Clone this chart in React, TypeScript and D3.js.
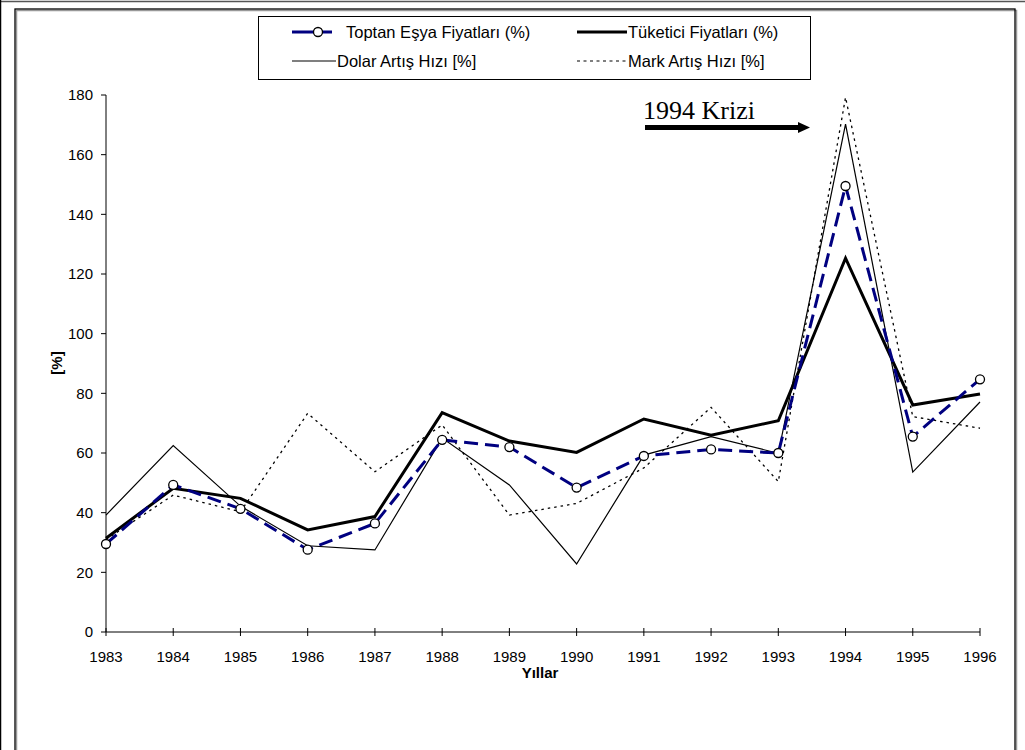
import React from "react";
import * as d3 from "d3";

const years = [1983, 1984, 1985, 1986, 1987, 1988, 1989, 1990, 1991, 1992, 1993, 1994, 1995, 1996];
const toptan = [29.5, 49.3, 41.3, 27.6, 36.4, 64.4, 62.0, 48.4, 59.0, 61.2, 60.0, 149.5, 65.5, 84.7];
const tuketici = [31.4, 48.2, 44.8, 34.2, 38.7, 73.5, 64.0, 60.2, 71.4, 66.0, 70.8, 125.3, 76.1, 79.8];
const dolar = [39.2, 62.5, 42.2, 28.9, 27.5, 65.0, 49.3, 22.8, 59.3, 65.5, 59.9, 170.2, 53.6, 77.1];
const mark = [31.0, 45.9, 40.3, 73.3, 53.7, 69.4, 39.2, 43.1, 55.0, 75.3, 50.4, 179.2, 72.2, 68.3];
const yTicks = [0, 20, 40, 60, 80, 100, 120, 140, 160, 180];

const labels = {
  toptan: "Toptan Eşya Fiyatları (%)",
  tuketici: "Tüketici Fiyatları (%)",
  dolar: "Dolar Artış Hızı [%]",
  mark: "Mark Artış Hızı [%]",
  xTitle: "Yıllar",
  yTitle: "[%]",
  note: "1994 Krizi",
};

const FONT = "'Liberation Sans', Arial, sans-serif";
const FS = 15;
const LFS = 16.5;

export default function App() {
  const x = d3.scaleLinear().domain([1983, 1996]).range([106, 980]);
  const y = d3.scaleLinear().domain([0, 180]).range([632, 95]);
  const mk = (vals: number[]) =>
    d3.line<number>().x((_, i) => x(years[i])).y((v) => y(v))(vals) || "";

  return (
    <svg
      width={1025}
      height={750}
      style={{ position: "absolute", left: 0, top: 0, background: "#fff" }}
      fontFamily={FONT}
    >
      <rect x={0} y={0} width={1025} height={750} fill="#fff" />
      {/* page frame */}
      <line x1={0} y1={1.5} x2={1025} y2={1.5} stroke="#555" strokeWidth={1.5} />
      <line x1={0.5} y1={0} x2={0.5} y2={750} stroke="#000" strokeWidth={1.5} />
      {/* chart frame with shadow */}
      <rect x={16.5} y={10.5} width={1000} height={800} fill="none" stroke="#999" strokeWidth={1.5} />
      <rect x={15} y={9} width={1000} height={800} fill="none" stroke="#000" strokeWidth={1.3} />

      {/* legend */}
      <rect x={258.5} y={16.5} width={552} height={63} fill="#fff" stroke="#000" strokeWidth={1} />
      <line x1={292} y1={32} x2={335} y2={32} stroke="#000080" strokeWidth={3} strokeDasharray="22,6,12,6" />
      <circle cx={318} cy={32} r={4.5} fill="#fff" stroke="#000" strokeWidth={1.3} />
      <text x={346} y={32} dy="0.35em" fontSize={LFS}>{labels.toptan}</text>
      <line x1={577} y1={32} x2={627} y2={32} stroke="#000" strokeWidth={3} />
      <text x={628} y={32} dy="0.35em" fontSize={LFS}>{labels.tuketici}</text>
      <line x1={292} y1={61} x2={336} y2={61} stroke="#000" strokeWidth={1.2} />
      <text x={337} y={61} dy="0.35em" fontSize={LFS}>{labels.dolar}</text>
      <line x1={577} y1={61} x2={627} y2={61} stroke="#000" strokeWidth={1.2} strokeDasharray="3,3.5" />
      <text x={628} y={61} dy="0.35em" fontSize={LFS}>{labels.mark}</text>

      {/* axes */}
      <line x1={x(1983)} y1={y(0)} x2={x(1983)} y2={y(180)} stroke="#000" strokeWidth={1} />
      <line x1={x(1983)} y1={y(0)} x2={x(1996)} y2={y(0)} stroke="#000" strokeWidth={1} />
      {yTicks.map((t) => (
        <g key={"y" + t}>
          <line x1={x(1983) - 5} x2={x(1983)} y1={y(t)} y2={y(t)} stroke="#000" />
          <text x={x(1983) - 13} y={y(t)} dy="0.35em" textAnchor="end" fontSize={FS}>{t}</text>
        </g>
      ))}
      {years.map((yr) => (
        <g key={"x" + yr}>
          <line x1={x(yr)} x2={x(yr)} y1={y(0) - 4} y2={y(0) + 4} stroke="#000" />
          <text x={x(yr)} y={657} dy="0.35em" textAnchor="middle" fontSize={FS}>{yr}</text>
        </g>
      ))}
      <text x={540} y={673} dy="0.35em" textAnchor="middle" fontSize={FS} fontWeight="bold">{labels.xTitle}</text>
      <text transform="translate(57,363) rotate(-90)" dy="0.35em" textAnchor="middle" fontSize={FS} fontWeight="bold">{labels.yTitle}</text>

      {/* series */}
      <path d={mk(mark)} fill="none" stroke="#000" strokeWidth={1.3} strokeDasharray="2.5,4" />
      <path d={mk(dolar)} fill="none" stroke="#000" strokeWidth={1.2} />
      <path d={mk(tuketici)} fill="none" stroke="#000" strokeWidth={3} strokeLinejoin="miter" />
      <path d={mk(toptan)} fill="none" stroke="#000080" strokeWidth={3} strokeDasharray="14,7" />
      {toptan.map((v, i) => (
        <circle key={"c" + i} cx={x(years[i])} cy={y(v)} r={4.5} fill="#fff" stroke="#000" strokeWidth={1.3} />
      ))}

      {/* annotation */}
      <text x={643} y={119} fontFamily="'Liberation Serif', 'Times New Roman', serif" fontSize={26}>{labels.note}</text>
      <line x1={645} y1={127.5} x2={800} y2={127.5} stroke="#000" strokeWidth={5} />
      <path d="M798,122 L810,127.5 L798,133 Z" fill="#000" />
    </svg>
  );
}
